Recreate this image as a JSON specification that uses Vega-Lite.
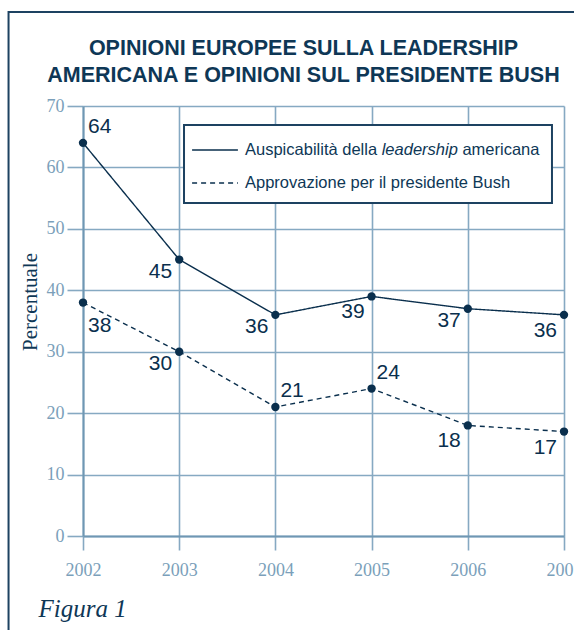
{
  "$schema": "https://vega.github.io/schema/vega-lite/v6.json",
  "width": 481,
  "height": 430,
  "autosize": {"type": "none"},
  "padding": {"left": 83, "top": 106, "right": 10, "bottom": 94},
  "background": "white",
  "config": {"view": {"stroke": null}, "font": "Liberation Sans"},
  "title": {
    "text": ["OPINIONI EUROPEE SULLA LEADERSHIP", "AMERICANA E OPINIONI SUL PRESIDENTE BUSH"],
    "font": "Liberation Sans",
    "fontWeight": "bold",
    "fontSize": 21.5,
    "lineHeight": 26.5,
    "color": "#0e3756",
    "anchor": "middle",
    "frame": "group",
    "dx": -20,
    "baseline": "alphabetic",
    "offset": 0,
    "dy": 92
  },
  "data": {
    "values": [
      {"year": 2002, "series": "Auspicabilità della leadership americana", "value": 64},
      {"year": 2003, "series": "Auspicabilità della leadership americana", "value": 45},
      {"year": 2004, "series": "Auspicabilità della leadership americana", "value": 36},
      {"year": 2005, "series": "Auspicabilità della leadership americana", "value": 39},
      {"year": 2006, "series": "Auspicabilità della leadership americana", "value": 37},
      {"year": 2007, "series": "Auspicabilità della leadership americana", "value": 36},
      {"year": 2002, "series": "Approvazione per il presidente Bush", "value": 38},
      {"year": 2003, "series": "Approvazione per il presidente Bush", "value": 30},
      {"year": 2004, "series": "Approvazione per il presidente Bush", "value": 21},
      {"year": 2005, "series": "Approvazione per il presidente Bush", "value": 24},
      {"year": 2006, "series": "Approvazione per il presidente Bush", "value": 18},
      {"year": 2007, "series": "Approvazione per il presidente Bush", "value": 17}
    ]
  },
  "layer": [
    {
      "data": {"values": [{}]},
      "mark": {"type": "rect", "fill": null, "stroke": "#1d4261", "strokeWidth": 2, "clip": false},
      "encoding": {
        "x": {"datum": 2001.226, "type": "quantitative", "scale": {"domain": [2002, 2007], "nice": false, "zero": false}},
        "x2": {"datum": 2008.5},
        "y": {"datum": 85.3, "type": "quantitative", "scale": {"domain": [0, 70], "nice": false}},
        "y2": {"datum": -30}
      }
    },
    {
      "data": {"values": [{}]},
      "mark": {"type": "rect", "fill": "white", "stroke": "#1d4261", "strokeWidth": 2},
      "encoding": {
        "x": {"datum": 2003.05, "type": "quantitative"},
        "x2": {"datum": 2006.875},
        "y": {"datum": 66.907, "type": "quantitative"},
        "y2": {"datum": 54.21}
      }
    },
    {
      "data": {"values": [{}]},
      "mark": {"type": "text", "align": "left", "baseline": "middle", "fontSize": 16.5, "font": "Liberation Sans", "color": "#0e3756", "text": "Auspicabilità della"},
      "encoding": {
        "x": {"datum": 2003.684, "type": "quantitative"},
        "y": {"datum": 62.837, "type": "quantitative"}
      }
    },
    {
      "data": {"values": [{}]},
      "mark": {"type": "text", "align": "left", "baseline": "middle", "fontSize": 16.5, "font": "Liberation Sans", "fontStyle": "italic", "color": "#0e3756", "text": "leadership"},
      "encoding": {
        "x": {"datum": 2005.105, "type": "quantitative"},
        "y": {"datum": 62.837, "type": "quantitative"}
      }
    },
    {
      "data": {"values": [{}]},
      "mark": {"type": "text", "align": "left", "baseline": "middle", "fontSize": 16.5, "font": "Liberation Sans", "color": "#0e3756", "text": "americana"},
      "encoding": {
        "x": {"datum": 2005.944, "type": "quantitative"},
        "y": {"datum": 62.837, "type": "quantitative"}
      }
    },
    {
      "mark": {"type": "line", "color": "#0a2f4d", "strokeWidth": 1.4},
      "encoding": {
        "x": {
          "field": "year", "type": "quantitative",
          "scale": {"domain": [2002, 2007], "nice": false, "zero": false},
          "axis": {
            "values": [2002, 2003, 2004, 2005, 2006, 2007],
            "format": "d",
            "grid": true,
            "gridColor": "#86a9c2",
            "gridWidth": 1.6,
            "domain": true,
            "domainColor": "#6f97b3",
            "domainWidth": 2,
            "tickSize": 14,
            "tickColor": "#86a9c2",
            "tickWidth": 1.6,
            "labelFont": "Liberation Serif",
            "labelFontSize": 18,
            "labelColor": "#7b9fba",
            "labelPadding": 11,
            "labelFlush": false,
            "labelOverlap": false,
            "title": "Figura 1",
            "titleFont": "Liberation Serif",
            "titleFontStyle": "italic",
            "titleFontWeight": "normal",
            "titleFontSize": 25,
            "titleColor": "#0e3756",
            "titleAlign": "left",
            "titleAnchor": "start",
            "titleBaseline": "alphabetic",
            "titleX": -45,
            "titleY": 80
          }
        },
        "y": {
          "field": "value", "type": "quantitative",
          "scale": {"domain": [0, 70], "nice": false},
          "axis": {
            "values": [0, 10, 20, 30, 40, 50, 60, 70],
            "grid": true,
            "gridColor": "#86a9c2",
            "gridWidth": 1.6,
            "domain": true,
            "domainColor": "#6f97b3",
            "domainWidth": 2,
            "tickSize": 16,
            "tickColor": "#86a9c2",
            "tickWidth": 1.6,
            "labelFont": "Liberation Serif",
            "labelFontSize": 18,
            "labelColor": "#7b9fba",
            "labelPadding": 3,
            "title": "Percentuale",
            "titleFont": "Liberation Serif",
            "titleFontWeight": "normal",
            "titleFontSize": 21,
            "titleColor": "#0e3756",
            "titleAngle": -90,
            "titleAlign": "center",
            "titleBaseline": "alphabetic",
            "titleX": -47,
            "titleY": 195.5
          }
        },
        "strokeDash": {
          "field": "series", "type": "nominal",
          "scale": {
            "domain": ["Auspicabilità della leadership americana", "Approvazione per il presidente Bush"],
            "range": [[1, 0], [5, 4]]
          },
          "legend": {
            "orient": "none",
            "legendX": 101,
            "legendY": 13,
            "title": null,
            "padding": 7,
            "symbolType": "stroke",
            "symbolSize": 2100,
            "symbolStrokeWidth": 1.4,
            "symbolStrokeColor": "#0a2f4d",
            "labelFont": "Liberation Sans",
            "labelFontSize": 16.5,
            "labelColor": "#0e3756",
            "labelOffset": 6,
            "rowPadding": 0,
            "labelLimit": 400,
            "labelExpr": "indexof(datum.label, 'Ausp') == 0 ? ' ' : datum.label"
          }
        }
      }
    },
    {
      "mark": {"type": "point", "filled": true, "size": 70, "color": "#0a2f4d", "opacity": 1},
      "encoding": {
        "x": {"field": "year", "type": "quantitative"},
        "y": {"field": "value", "type": "quantitative"}
      }
    },
    {
      "transform": [{"filter": "(datum.year == 2002 && datum.value == 64) || (datum.year == 2004 && datum.value == 21) || (datum.year == 2005 && datum.value == 24)"}],
      "mark": {"type": "text", "align": "left", "baseline": "middle", "dx": 5, "dy": -16, "fontSize": 21, "font": "Liberation Sans", "color": "#0a2f4d"},
      "encoding": {
        "x": {"field": "year", "type": "quantitative"},
        "y": {"field": "value", "type": "quantitative"},
        "text": {"field": "value", "type": "quantitative"}
      }
    },
    {
      "transform": [{"filter": "datum.year == 2002 && datum.value == 38"}],
      "mark": {"type": "text", "align": "left", "baseline": "middle", "dx": 5, "dy": 23, "fontSize": 21, "font": "Liberation Sans", "color": "#0a2f4d"},
      "encoding": {
        "x": {"field": "year", "type": "quantitative"},
        "y": {"field": "value", "type": "quantitative"},
        "text": {"field": "value", "type": "quantitative"}
      }
    },
    {
      "transform": [{"filter": "(datum.year == 2003) || (datum.year == 2004 && datum.value == 36) || (datum.year == 2006 && datum.value == 37)"}],
      "mark": {"type": "text", "align": "right", "baseline": "middle", "dx": -7, "dy": 12, "fontSize": 21, "font": "Liberation Sans", "color": "#0a2f4d"},
      "encoding": {
        "x": {"field": "year", "type": "quantitative"},
        "y": {"field": "value", "type": "quantitative"},
        "text": {"field": "value", "type": "quantitative"}
      }
    },
    {
      "transform": [{"filter": "(datum.year == 2005 && datum.value == 39) || (datum.year == 2006 && datum.value == 18) || (datum.year == 2007)"}],
      "mark": {"type": "text", "align": "right", "baseline": "middle", "dx": -7, "dy": 16, "fontSize": 21, "font": "Liberation Sans", "color": "#0a2f4d"},
      "encoding": {
        "x": {"field": "year", "type": "quantitative"},
        "y": {"field": "value", "type": "quantitative"},
        "text": {"field": "value", "type": "quantitative"}
      }
    }
  ]
}
